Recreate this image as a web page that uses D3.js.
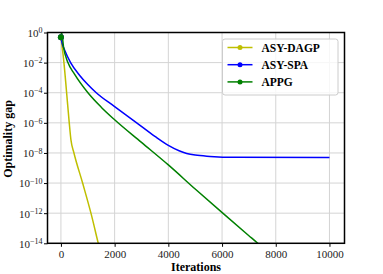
<!DOCTYPE html>
<html>
<head>
<meta charset="utf-8">
<script src="https://cdn.jsdelivr.net/npm/d3@7"></script>
<style>
  body { margin: 0; background: #fff; }
  text { font-family: "Liberation Serif", "DejaVu Serif", serif; }
</style>
</head>
<body>
<div id="chart"></div>
<script>
// iterations and optimality gap
var dagpIter = [0, 112, 212, 310, 373, 485, 808, 1118, 1390, 1500];
var dagpGap  = [4.8e-1, 1e-2, 1e-4, 1e-6, 7.4e-8, 1e-8, 1e-10, 1e-12, 1e-14, 1.6e-15];

var spaIter = [0, 50, 137, 360, 700, 1000, 1316, 2000, 2821, 3500, 4000, 4400, 4685, 5000, 5553, 6500, 10000];
var spaGap  = [4.8e-1, 1.8e-1, 6.9e-2, 1e-2, 1.4e-3, 3.5e-4, 1e-4, 1.2e-5, 1e-6, 1.26e-7, 3.2e-8, 1.4e-8, 9.3e-9, 7.2e-9, 5.9e-9, 5.1e-9, 4.9e-9];

var appgIter = [0, 25, 100, 261, 500, 1006, 1500, 2000, 3000, 4000, 5000, 6027, 7000, 7331, 7600];
var appgGap  = [4.8e-1, 1.0, 1e-1, 1e-2, 1.8e-3, 1e-4, 1.1e-5, 1.6e-6, 5e-8, 1.6e-9, 4e-11, 1e-12, 3.2e-14, 1e-14, 4e-15];

var seriesNames = ["ASY-DAGP", "ASY-SPA", "APPG"];
var seriesColors = ["#bfbf00", "#0000ff", "#008000"];

var xTicks = [0, 2000, 4000, 6000, 8000, 10000];
var yTickExp = [0, -2, -4, -6, -8, -10, -12, -14];

(function() {
  var width = 383, height = 274;
  var margin = {top: 32.5, right: 38.5, bottom: 30.7, left: 47.5};

  var series = [
    {name: seriesNames[0], color: seriesColors[0], pts: dagpIter.map((d, i) => [d, dagpGap[i]])},
    {name: seriesNames[1], color: seriesColors[1], pts: spaIter.map((d, i) => [d, spaGap[i]])},
    {name: seriesNames[2], color: seriesColors[2], pts: appgIter.map((d, i) => [d, appgGap[i]])}
  ];

  var x = d3.scaleLinear()
    .domain([-500, 10560])
    .range([margin.left, width - margin.right]);

  var y = d3.scaleLog()
    .domain([1e-14, 1])
    .range([height - margin.bottom, margin.top]);

  var svg = d3.select("#chart").append("svg")
    .attr("width", width)
    .attr("height", height);

  svg.append("defs").append("clipPath").attr("id", "clip")
    .append("rect")
      .attr("x", margin.left).attr("y", margin.top)
      .attr("width", width - margin.left - margin.right)
      .attr("height", height - margin.top - margin.bottom);

  // grid
  var grid = svg.append("g").attr("stroke", "#d4d4d4").attr("stroke-width", 1);
  grid.selectAll(".gx").data(xTicks).join("line")
    .attr("x1", d => x(d)).attr("x2", d => x(d))
    .attr("y1", margin.top).attr("y2", height - margin.bottom);
  grid.selectAll(".gy").data(yTickExp).join("line")
    .attr("x1", margin.left).attr("x2", width - margin.right)
    .attr("y1", d => y(Math.pow(10, d))).attr("y2", d => y(Math.pow(10, d)));

  // lines
  var line = d3.line().x(d => x(d[0])).y(d => y(d[1])).curve(d3.curveMonotoneX);
  var plot = svg.append("g").attr("clip-path", "url(#clip)");
  series.forEach(function(s) {
    plot.append("path")
      .datum(s.pts)
      .attr("fill", "none")
      .attr("stroke", s.color)
      .attr("stroke-width", 1.5)
      .attr("d", line);
  });
  series.forEach(function(s) {
    svg.append("circle")
      .attr("cx", x(s.pts[0][0])).attr("cy", y(s.pts[0][1]))
      .attr("r", 3).attr("fill", s.color);
  });

  // axes
  var xAxis = d3.axisBottom(x).tickValues(xTicks).tickSize(3.5).tickPadding(3).tickSizeOuter(0).tickFormat(d3.format("d"));
  var gx = svg.append("g")
    .attr("transform", `translate(0,${height - margin.bottom})`)
    .call(xAxis);
  gx.select(".domain").remove();
  gx.selectAll("text").attr("font-size", 11).attr("fill", "#222").attr("font-family", "Liberation Serif, serif");

  var yAxis = d3.axisLeft(y).tickValues(yTickExp.map(e => Math.pow(10, e))).tickSize(3.5).tickPadding(3).tickSizeOuter(0).tickFormat("");
  var gy = svg.append("g")
    .attr("transform", `translate(${margin.left},0)`)
    .call(yAxis);
  gy.select(".domain").remove();
  gy.selectAll(".tick").each(function(d, i) {
    var t = d3.select(this).append("text")
      .attr("x", -5).attr("dy", "0.35em")
      .attr("text-anchor", "end")
      .attr("fill", "#222")
      .attr("font-size", 11);
    t.append("tspan").text("10");
    t.append("tspan").attr("dy", "-0.45em").attr("font-size", 8).text(yTickExp[i] === 0 ? "0" : "\u2212" + (-yTickExp[i]));
  });
  svg.selectAll(".tick line").attr("stroke", "#000").attr("stroke-width", 1);

  // frame
  svg.append("rect")
    .attr("x", margin.left).attr("y", margin.top)
    .attr("width", width - margin.left - margin.right)
    .attr("height", height - margin.top - margin.bottom)
    .attr("fill", "none").attr("stroke", "#000").attr("stroke-width", 1.5);

  // labels
  svg.append("text")
    .attr("x", (margin.left + width - margin.right) / 2).attr("y", 271)
    .attr("text-anchor", "middle").attr("font-weight", "bold").attr("font-size", 12)
    .text("Iterations");
  svg.append("text")
    .attr("transform", "translate(12,139) rotate(-90)")
    .attr("text-anchor", "middle").attr("font-weight", "bold").attr("font-size", 12)
    .text("Optimality gap");

  // legend
  var lg = svg.append("g").attr("transform", "translate(222.5,39)");
  lg.append("rect")
    .attr("width", 115.5).attr("height", 56).attr("rx", 2.5)
    .attr("fill", "#fff").attr("fill-opacity", 0.8)
    .attr("stroke", "#ccc").attr("stroke-width", 1);
  series.forEach(function(s, i) {
    var yy = 8.5 + i * 17.2;
    lg.append("line").attr("x1", 5).attr("x2", 30).attr("y1", yy).attr("y2", yy)
      .attr("stroke", s.color).attr("stroke-width", 1.5);
    lg.append("circle").attr("cx", 17.5).attr("cy", yy).attr("r", 2.5).attr("fill", s.color);
    lg.append("text").attr("x", 39).attr("y", yy).attr("dy", "0.35em")
      .attr("font-weight", "bold").attr("font-size", 11.5).text(s.name);
  });
})();
</script>
</body>
</html>
